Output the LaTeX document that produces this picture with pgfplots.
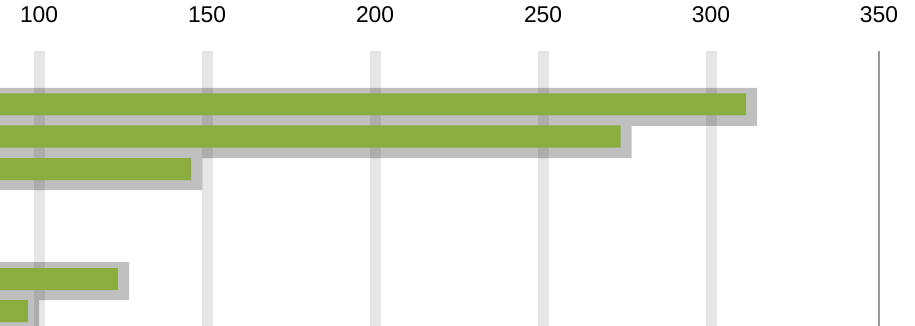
\documentclass[border=0pt]{standalone}
\usepackage{fontspec}
\setmainfont{Liberation Sans}
\usepackage{pgfplots}
\pgfplotsset{compat=1.18}
\definecolor{barg}{HTML}{8AAD3F}
\definecolor{gridg}{HTML}{E6E6E6}
\definecolor{edge}{HTML}{999999}
\begin{document}
\begin{tikzpicture}[x=1pt,y=1pt]
\begin{axis}[
  at={(0,0)}, anchor=south west,
  scale only axis, width=439.5pt, height=137.5pt,
  xmin=88.38, xmax=350, ymin=51, ymax=326, y dir=reverse,
  axis line style={draw=none},
  xtick={100,150,...,300},
  extra x ticks={350}, extra x tick style={grid=none},
  xticklabel pos=upper,
  ytick=\empty,
  major tick length=0pt,
  xmajorgrids, major grid style={gridg, line width=5.5pt},
  xticklabel style={font=\fontsize{11.4}{13}\selectfont, anchor=base, yshift=14pt},
  /pgf/number format/assume math mode=true,
  clip=false,
]
% soft shadow behind each bar
\addplot[xbar, bar shift=0pt, bar width=19pt, fill=black, draw=none, opacity=0.25]
  coordinates {(313.7,107) (276.4,139) (148.6,171) (126.8,281) (100.0,313)};
% bars
\addplot[xbar, bar shift=0pt, bar width=11pt, fill=barg, draw=none]
  coordinates {(310.4,104.5) (273.1,136.5) (145.3,169) (123.5,279) (96.7,311)};
% right edge line at 350
\addplot[edge, line width=1pt] coordinates {(350,51) (350,326)};
\end{axis}
\pgfresetboundingbox
\path (0,0) rectangle (457.5,163);
\end{tikzpicture}
\end{document}
